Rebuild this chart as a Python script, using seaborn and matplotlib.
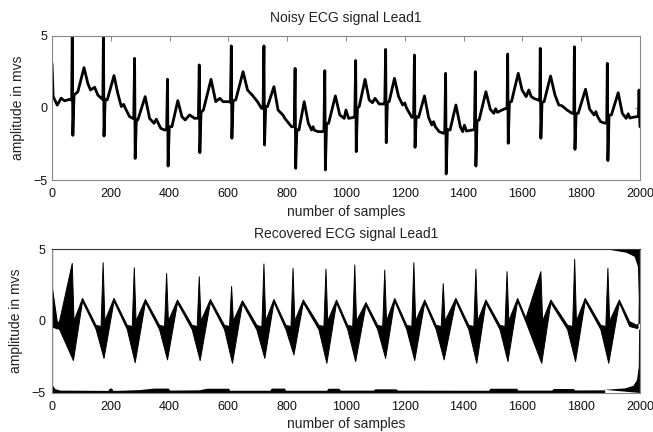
import numpy as np
import pandas as pd
import matplotlib
matplotlib.use("Agg")
import matplotlib.pyplot as plt
import seaborn as sns

# ---------------- data ----------------
# Noisy ECG (top panel): polyline vertices (sample index, amplitude)
noisy_samples = [
    0, 4, 18, 31, 43, 60, 67, 69, 71, 75,
    88, 109, 122, 131, 145, 156, 168, 173, 175, 177, 181,
    188, 211, 224, 236, 244, 249, 264, 278, 281, 283, 287,
    292, 317, 332, 347, 355, 370, 383, 390, 393, 395, 399,
    408, 428, 442, 453, 468, 485, 498, 501, 503, 507,
    515, 541, 557, 571, 582, 600, 607, 610, 612, 616,
    625, 650, 665, 681, 699, 713, 718, 721, 723, 727,
    733, 755, 769, 780, 786, 792, 815, 824, 827, 829, 833,
    840, 858, 872, 883, 888, 893, 905, 919, 925, 928, 930, 934,
    941, 964, 979, 994, 1000, 1009, 1026, 1030, 1033, 1035, 1039,
    1045, 1065, 1079, 1090, 1099, 1113, 1128, 1132, 1135, 1137, 1141,
    1147, 1165, 1179, 1193, 1200, 1206, 1224, 1230, 1233, 1235, 1239,
    1247, 1267, 1281, 1292, 1298, 1304, 1317, 1332, 1336, 1339, 1341, 1345,
    1354, 1374, 1389, 1397, 1403, 1410, 1428, 1437, 1440, 1442, 1446,
    1453, 1476, 1491, 1503, 1509, 1515, 1531, 1543, 1548, 1550, 1552, 1556,
    1563, 1586, 1599, 1613, 1622, 1630, 1639, 1654, 1659, 1661, 1663, 1667,
    1674, 1696, 1711, 1724, 1735, 1752, 1769, 1775, 1777, 1779, 1783,
    1790, 1815, 1829, 1844, 1850, 1856, 1866, 1881, 1887, 1889, 1891, 1895,
    1903, 1926, 1940, 1953, 1960, 1966, 1974, 1991, 1995, 1997, 2000,
]
noisy_values = [
    3.1, 0.8, 0.2, 0.68, 0.5, 0.6, 0.55, 5.3, -1.9, 0.9,
    1.13, 2.8, 1.7, 1.25, 1.44, 0.9, 0.67, 0.6, 5.3, -1.95, 0.6,
    0.56, 2.25, 1.0, 0.1, 0.25, 0.0, -0.6, -0.75, 3.45, -3.5, -0.8,
    -0.83, 0.79, -0.72, -1.06, -0.78, -1.41, -1.53, -1.5, 2.0, -4.03, -1.3,
    -1.3, 0.51, -0.6, -0.83, -0.48, -0.72, -0.7, 2.99, -3.1, -0.3,
    -0.14, 1.99, 0.44, 0.67, 0.44, 0.44, 0.4, 4.31, -2.1, 0.5,
    0.56, 2.52, 1.25, 0.9, 0.44, -0.03, 0.0, 4.31, -2.57, 0.1,
    0.09, 1.48, -0.14, -0.37, -0.5, -0.72, -1.3, -1.3, 2.75, -4.19, -1.5,
    -1.53, 0.44, -1.06, -1.53, -1.3, -1.55, -1.64, -1.64, -1.6, 2.59, -4.3, -1.1,
    -1.06, 0.84, -0.48, -0.72, -0.14, -0.72, -0.65, -0.6, 3.29, -3.03, 0.0,
    0.09, 1.99, 0.56, 0.37, 0.67, 0.28, 0.28, 0.3, 4.07, -2.41, 0.4,
    0.44, 2.06, 0.79, 0.21, 0.35, 0.0, -0.65, -0.6, 3.68, -2.73, -0.6,
    -0.65, 0.84, -0.65, -1.18, -0.95, -1.3, -1.64, -1.76, -1.7, 2.41, -4.58, -1.5,
    -1.53, 0.21, -1.3, -1.64, -1.2, -1.6, -1.53, -1.5, 2.52, -4.03, -0.9,
    -0.83, 1.13, -0.09, -0.37, -0.05, -0.3, -0.14, -0.03, 0.0, 3.75, -2.45, 0.4,
    0.44, 2.41, 1.25, 0.79, 1.25, 0.8, 0.67, 0.56, 0.5, 4.14, -2.1, 0.4,
    0.44, 2.22, 0.9, 0.21, 0.15, -0.14, -0.37, -0.35, 4.25, -2.87, -0.4,
    -0.37, 1.3, -0.09, -0.48, -0.25, -0.6, -0.95, -1.06, -1.0, 3.1, -3.65, -0.5,
    -0.48, 1.06, -0.37, -0.72, -0.4, -0.7, -0.65, -0.6, -0.5, 1.25, -1.3,
]

# Recovered ECG (bottom panel): upper and lower envelope of the dense trace
upper_x = [0, 18, 25, 69, 75, 104,
           150, 167, 174, 180, 211,
           256, 273, 280, 286, 318,
           366, 383, 390, 396, 427,
           477, 494, 501, 507, 539,
           587, 604, 611, 617, 648,
           697, 714, 721, 727, 755,
           796, 813, 820, 826, 855,
           908, 925, 932, 938, 968,
           1006, 1023, 1030, 1036, 1068,
           1108, 1125, 1132, 1138, 1166,
           1207, 1224, 1231, 1237, 1268,
           1307, 1324, 1331, 1337, 1374,
           1418, 1435, 1442, 1448, 1476,
           1524, 1541, 1548, 1554, 1584,
           1612, 1663, 1669, 1697,
           1754, 1771, 1778, 1784, 1814,
           1867, 1884, 1891, 1897, 1930,
           1965, 1990, 1995]
upper_y = [2.5, -0.05, -0.1, 4.0, 0.0, 1.57,
           -0.3, -0.38, 4.05, 0.0, 1.57,
           -0.3, -0.38, 3.7, 0.0, 1.5,
           -0.3, -0.38, 3.3, 0.0, 1.46,
           -0.3, -0.38, 3.08, 0.0, 1.5,
           -0.3, -0.38, 2.4, 0.0, 1.41,
           -0.3, -0.4, 3.96, 0.0, 1.5,
           -0.3, -0.38, 3.66, 0.0, 1.46,
           -0.3, -0.38, 3.6, 0.0, 1.46,
           -0.3, -0.38, 3.89, 0.0, 1.28,
           -0.3, -0.38, 3.54, 0.0, 1.57,
           -0.3, -0.38, 4.05, 0.0, 1.46,
           -0.3, -0.38, 2.6, 0.0, 1.57,
           -0.3, -0.38, 3.6, 0.0, 1.46,
           -0.3, -0.38, 3.43, 0.0, 1.57,
           0.2, 3.43, 0.0, 1.46,
           -0.3, -0.38, 4.28, 0.0, 1.57,
           -0.3, -0.38, 3.66, 0.0, 1.46,
           -0.05, -0.3, -0.2]
lower_x = [0, 18, 25, 73, 104,
           150, 177, 211, 256, 283, 318, 366, 393, 427,
           477, 504, 539, 587, 614, 648, 697, 724, 755,
           796, 823, 855, 908, 935, 968, 1006, 1033, 1068,
           1108, 1135, 1166, 1207, 1234, 1268, 1307, 1334, 1374,
           1418, 1445, 1476, 1524, 1551, 1584, 1612, 1666, 1697,
           1754, 1781, 1814, 1867, 1894, 1930, 1965, 1990, 1995]
lower_y = [-0.4, -0.55, -0.55, -2.75, 1.37,
           -0.58, -2.6, 1.37, -0.58, -2.9, 1.3, -0.6, -2.7, 1.26,
           -0.6, -2.75, 1.3, -0.6, -2.94, 1.21, -0.62, -2.6, 1.3,
           -0.6, -2.36, 1.26, -0.6, -2.94, 1.26, -0.6, -2.82, 1.08,
           -0.6, -2.6, 1.37, -0.6, -2.75, 1.26, -0.6, -2.7, 1.37,
           -0.6, -2.94, 1.26, -0.6, -2.82, 1.37, -0.05, -2.94, 1.26,
           -0.6, -2.82, 1.37, -0.6, -2.94, 1.26, -0.38, -0.52, -0.47]

# band hugging the lower limit
band_x = [0, 3, 10, 27, 190, 196, 202, 208, 250, 300, 345, 395, 401, 500, 527,
          600, 605, 741, 746, 790, 795, 934, 939, 976, 981, 1093, 1098, 1170,
          1175, 1485, 1490, 1580, 1585, 1700, 1705, 1773, 1778, 1880]
band_top = [-4.25, -4.5, -4.7, -4.8, -4.82, -4.66, -4.66, -4.82, -4.8, -4.76,
            -4.66, -4.66, -4.8, -4.78, -4.67, -4.67, -4.81, -4.81, -4.66, -4.66,
            -4.81, -4.81, -4.67, -4.67, -4.8, -4.8, -4.71, -4.71, -4.8, -4.81,
            -4.67, -4.67, -4.8, -4.8, -4.69, -4.69, -4.79, -4.78]
# lower-right corner and upper-right wedge
corner_x = [1880, 1950, 1978, 1990, 1996, 1997, 2000, 2000]
corner_y = [-4.78, -4.68, -4.5, -4.1, -3.2, -0.6, -0.6, -5.0]
wedge_x = [1880, 1954, 1982, 1993, 1996, 1995, 2000, 2000]
wedge_y = [5.0, 4.74, 4.46, 3.77, 1.69, -0.2, -0.2, 5.0]
start_x = [0, 0]
start_y = [5.0, -4.3]

x_ticks = list(range(0, 2001, 200))
y_ticks = [-5, 0, 5]

# ---------------- drawing ----------------
sns.set_theme(style="white")
plt.rcParams["font.family"] = ["Liberation Sans", "DejaVu Sans"]

fig = plt.figure(figsize=(6.53, 4.32), dpi=100)
ax1 = fig.add_axes([0.0796, 0.5833, 0.9004, 0.3334])
ax2 = fig.add_axes([0.0796, 0.0903, 0.9004, 0.3333])

top_df = pd.DataFrame({"sample": noisy_samples, "amp": noisy_values})
sns.lineplot(data=top_df, x="sample", y="amp", ax=ax1, color="black",
             linewidth=2.0, estimator=None, sort=False)

up_df = pd.DataFrame({"sample": upper_x, "amp": upper_y})
lo_df = pd.DataFrame({"sample": lower_x, "amp": lower_y})
ax2.fill(np.concatenate([upper_x, lower_x[::-1]]),
         np.concatenate([upper_y, lower_y[::-1]]), color="black", lw=0)
sns.lineplot(data=up_df, x="sample", y="amp", ax=ax2, color="black",
             linewidth=0.7, estimator=None, sort=False)
sns.lineplot(data=lo_df, x="sample", y="amp", ax=ax2, color="black",
             linewidth=0.7, estimator=None, sort=False)
ax2.fill_between(band_x, -5.3, band_top, color="black", lw=0)
ax2.fill(corner_x, corner_y, color="black", lw=0)
ax2.fill(wedge_x, wedge_y, color="black", lw=0)
ax2.plot(start_x, start_y, color="black", lw=1.6)

titles = ["Noisy ECG signal Lead1", "Recovered ECG signal Lead1"]
pads = [10, 8]
for ax, title, pad in zip([ax1, ax2], titles, pads):
    ax.set_xlim(0, 2000)
    ax.set_ylim(-5, 5)
    ax.set_xticks(x_ticks)
    ax.set_yticks(y_ticks)
    ax.set_xlabel("number of samples", fontsize=10, color="#222", labelpad=3)
    ax.set_ylabel("amplitude in mvs", fontsize=10, color="#222", labelpad=6)
    ax.set_title(title, fontsize=10, color="#222", pad=pad)
    for sp in ax.spines.values():
        sp.set_visible(True)
        sp.set_color("#888888")
        sp.set_linewidth(0.8)

ax1.tick_params(axis="both", direction="in", length=3.5, width=0.7,
                colors="#888888", labelcolor="#111", labelsize=9,
                top=True, right=True)
ax1.tick_params(axis="x", pad=6)
ax1.tick_params(axis="y", pad=3)
ax2.tick_params(axis="both", length=0, labelcolor="#111", labelsize=9)
ax2.tick_params(axis="x", pad=6)
ax2.tick_params(axis="y", pad=5)
ax2.spines["top"].set_color("#333333")

fig.savefig("out.png", dpi=100)
